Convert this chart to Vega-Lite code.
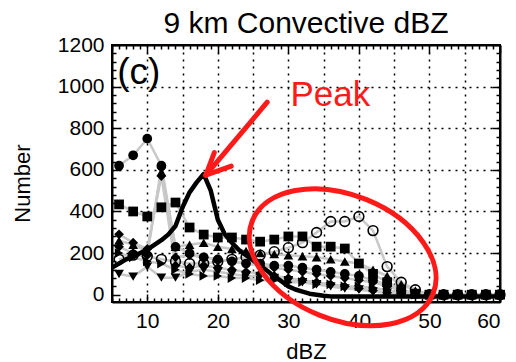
{
  "$schema": "https://vega.github.io/schema/vega-lite/v6.json",
  "autosize": {"type": "none"},
  "width": 388,
  "height": 257,
  "padding": {"left": 112, "top": 45, "right": 16, "bottom": 60},
  "background": "white",
  "config": {
    "font": "Liberation Sans",
    "view": {"stroke": "black", "strokeWidth": 2}
  },
  "title": {"text": "9 km Convective dBZ", "fontSize": 30, "fontWeight": "normal", "font": "Liberation Sans", "color": "black", "anchor": "middle", "offset": -5},
  "datasets": {
    "series": [
      {"s":"A","x":6,"y":620},{"s":"A","x":8,"y":670},{"s":"A","x":10,"y":750},{"s":"A","x":12,"y":620},{"s":"A","x":14,"y":230},{"s":"A","x":16,"y":200},{"s":"A","x":18,"y":180},{"s":"A","x":20,"y":170},{"s":"A","x":22,"y":160},{"s":"A","x":24,"y":150},{"s":"A","x":26,"y":150},{"s":"A","x":28,"y":140},{"s":"A","x":30,"y":140},{"s":"A","x":32,"y":130},{"s":"A","x":34,"y":120},{"s":"A","x":36,"y":110},{"s":"A","x":38,"y":100},{"s":"A","x":40,"y":90},{"s":"A","x":42,"y":70},{"s":"A","x":44,"y":50},{"s":"A","x":46,"y":20},{"s":"A","x":48,"y":5},{"s":"A","x":50,"y":0},{"s":"A","x":52,"y":0},{"s":"A","x":54,"y":0},{"s":"A","x":56,"y":0},{"s":"A","x":58,"y":0},{"s":"A","x":60,"y":0},
      {"s":"B","x":6,"y":434},{"s":"B","x":8,"y":400},{"s":"B","x":10,"y":376},{"s":"B","x":12,"y":420},{"s":"B","x":14,"y":443},{"s":"B","x":16,"y":323},{"s":"B","x":18,"y":289},{"s":"B","x":20,"y":275},{"s":"B","x":22,"y":275},{"s":"B","x":24,"y":265},{"s":"B","x":26,"y":255},{"s":"B","x":28,"y":265},{"s":"B","x":30,"y":280},{"s":"B","x":32,"y":280},{"s":"B","x":34,"y":231},{"s":"B","x":36,"y":231},{"s":"B","x":38,"y":222},{"s":"B","x":40,"y":150},{"s":"B","x":42,"y":100},{"s":"B","x":44,"y":60},{"s":"B","x":46,"y":25},{"s":"B","x":48,"y":5},{"s":"B","x":50,"y":0},{"s":"B","x":52,"y":0},{"s":"B","x":54,"y":0},{"s":"B","x":56,"y":0},{"s":"B","x":58,"y":0},{"s":"B","x":60,"y":0},
      {"s":"C","x":6,"y":170},{"s":"C","x":8,"y":190},{"s":"C","x":10,"y":185},{"s":"C","x":12,"y":170},{"s":"C","x":14,"y":160},{"s":"C","x":16,"y":150},{"s":"C","x":18,"y":150},{"s":"C","x":20,"y":160},{"s":"C","x":22,"y":170},{"s":"C","x":24,"y":180},{"s":"C","x":26,"y":190},{"s":"C","x":28,"y":207},{"s":"C","x":30,"y":226},{"s":"C","x":32,"y":250},{"s":"C","x":34,"y":299},{"s":"C","x":36,"y":352},{"s":"C","x":38,"y":352},{"s":"C","x":40,"y":376},{"s":"C","x":42,"y":308},{"s":"C","x":44,"y":135},{"s":"C","x":46,"y":60},{"s":"C","x":48,"y":24},{"s":"C","x":50,"y":0},{"s":"C","x":52,"y":0},{"s":"C","x":54,"y":0},{"s":"C","x":56,"y":0},{"s":"C","x":58,"y":0},{"s":"C","x":60,"y":0},
      {"s":"D","x":6,"y":230},{"s":"D","x":8,"y":200},{"s":"D","x":10,"y":190},{"s":"D","x":12,"y":610},{"s":"D","x":14,"y":180},{"s":"D","x":16,"y":190},{"s":"D","x":18,"y":180},{"s":"D","x":20,"y":170},{"s":"D","x":22,"y":160},{"s":"D","x":24,"y":150},{"s":"D","x":26,"y":140},{"s":"D","x":28,"y":130},{"s":"D","x":30,"y":120},{"s":"D","x":32,"y":110},{"s":"D","x":34,"y":100},{"s":"D","x":36,"y":90},{"s":"D","x":38,"y":80},{"s":"D","x":40,"y":70},{"s":"D","x":42,"y":60},{"s":"D","x":44,"y":40},{"s":"D","x":46,"y":20},{"s":"D","x":48,"y":5},{"s":"D","x":50,"y":0},{"s":"D","x":52,"y":0},{"s":"D","x":54,"y":0},{"s":"D","x":56,"y":0},{"s":"D","x":58,"y":0},{"s":"D","x":60,"y":0},
      {"s":"E","x":6,"y":100},{"s":"E","x":8,"y":87},{"s":"E","x":10,"y":135},{"s":"E","x":12,"y":82},{"s":"E","x":14,"y":82},{"s":"E","x":16,"y":110},{"s":"E","x":18,"y":120},{"s":"E","x":20,"y":110},{"s":"E","x":22,"y":100},{"s":"E","x":24,"y":90},{"s":"E","x":26,"y":90},{"s":"E","x":28,"y":80},{"s":"E","x":30,"y":70},{"s":"E","x":32,"y":60},{"s":"E","x":34,"y":50},{"s":"E","x":36,"y":40},{"s":"E","x":38,"y":30},{"s":"E","x":40,"y":25},{"s":"E","x":42,"y":15},{"s":"E","x":44,"y":10},{"s":"E","x":46,"y":0},{"s":"E","x":48,"y":0},{"s":"E","x":50,"y":0},{"s":"E","x":52,"y":0},{"s":"E","x":54,"y":0},{"s":"E","x":56,"y":0},{"s":"E","x":58,"y":0},{"s":"E","x":60,"y":0},
      {"s":"F","x":6,"y":260},{"s":"F","x":8,"y":240},{"s":"F","x":10,"y":210},{"s":"F","x":12,"y":590},{"s":"F","x":14,"y":230},{"s":"F","x":16,"y":240},{"s":"F","x":18,"y":250},{"s":"F","x":20,"y":230},{"s":"F","x":22,"y":220},{"s":"F","x":24,"y":210},{"s":"F","x":26,"y":200},{"s":"F","x":28,"y":195},{"s":"F","x":30,"y":190},{"s":"F","x":32,"y":185},{"s":"F","x":34,"y":180},{"s":"F","x":36,"y":170},{"s":"F","x":38,"y":160},{"s":"F","x":40,"y":150},{"s":"F","x":42,"y":120},{"s":"F","x":44,"y":90},{"s":"F","x":46,"y":50},{"s":"F","x":48,"y":20},{"s":"F","x":50,"y":0},{"s":"F","x":52,"y":0},{"s":"F","x":54,"y":0},{"s":"F","x":56,"y":0},{"s":"F","x":58,"y":0},{"s":"F","x":60,"y":0},
      {"s":"G","x":6,"y":290},{"s":"G","x":8,"y":250},{"s":"G","x":10,"y":220},{"s":"G","x":12,"y":570},{"s":"G","x":14,"y":140},{"s":"G","x":16,"y":130},{"s":"G","x":18,"y":140},{"s":"G","x":20,"y":130},{"s":"G","x":22,"y":120},{"s":"G","x":24,"y":110},{"s":"G","x":26,"y":100},{"s":"G","x":28,"y":90},{"s":"G","x":30,"y":80},{"s":"G","x":32,"y":70},{"s":"G","x":34,"y":60},{"s":"G","x":36,"y":50},{"s":"G","x":38,"y":40},{"s":"G","x":40,"y":30},{"s":"G","x":42,"y":20},{"s":"G","x":44,"y":10},{"s":"G","x":46,"y":5},{"s":"G","x":48,"y":0},{"s":"G","x":50,"y":0},{"s":"G","x":52,"y":0},{"s":"G","x":54,"y":0},{"s":"G","x":56,"y":0},{"s":"G","x":58,"y":0},{"s":"G","x":60,"y":0},
      {"s":"H","x":6,"y":200},{"s":"H","x":8,"y":180},{"s":"H","x":10,"y":160},{"s":"H","x":12,"y":150},{"s":"H","x":14,"y":120},{"s":"H","x":16,"y":100},{"s":"H","x":18,"y":90},{"s":"H","x":20,"y":90},{"s":"H","x":22,"y":80},{"s":"H","x":24,"y":80},{"s":"H","x":26,"y":70},{"s":"H","x":28,"y":70},{"s":"H","x":30,"y":60},{"s":"H","x":32,"y":60},{"s":"H","x":34,"y":50},{"s":"H","x":36,"y":50},{"s":"H","x":38,"y":40},{"s":"H","x":40,"y":40},{"s":"H","x":42,"y":34},{"s":"H","x":44,"y":20},{"s":"H","x":46,"y":10},{"s":"H","x":48,"y":0},{"s":"H","x":50,"y":0},{"s":"H","x":52,"y":0},{"s":"H","x":54,"y":0},{"s":"H","x":56,"y":0},{"s":"H","x":58,"y":0},{"s":"H","x":60,"y":0}
    ],
    "thick": [
      {"x":5,"y":130},{"x":6,"y":150},{"x":7,"y":170},{"x":8,"y":183},{"x":9,"y":200},{"x":10,"y":217},{"x":11,"y":240},{"x":12,"y":262},{"x":13,"y":290},{"x":14,"y":330},{"x":15,"y":420},{"x":16,"y":492},{"x":17,"y":540},{"x":18,"y":580},{"x":19,"y":500},{"x":20,"y":360},{"x":21,"y":290},{"x":22,"y":250},{"x":23,"y":215},{"x":24,"y":190},{"x":25,"y":165},{"x":26,"y":140},{"x":27,"y":115},{"x":28,"y":88},{"x":29,"y":65},{"x":30,"y":40},{"x":31,"y":25},{"x":32,"y":15},{"x":33,"y":5},{"x":34,"y":0},{"x":35,"y":-5},{"x":36,"y":-8},{"x":38,"y":-8},{"x":40,"y":-8},{"x":42,"y":-8},{"x":44,"y":-8},{"x":46,"y":-8},{"x":48,"y":-8},{"x":50,"y":-8},{"x":52,"y":-8},{"x":54,"y":-8},{"x":56,"y":-8},{"x":58,"y":-8},{"x":60,"y":-8}
    ],
    "arrow": [
      {"seg":"shaft","o":1,"x":27.0,"y":925},{"seg":"shaft","o":2,"x":18.3,"y":575},
      {"seg":"barb1","o":1,"x":21.9,"y":618},{"seg":"barb1","o":2,"x":18.3,"y":575},
      {"seg":"barb2","o":1,"x":19.5,"y":683},{"seg":"barb2","o":2,"x":18.3,"y":575}
    ],
    "ellipse": [{"x":37.7,"y":180}],
    "notes": [
      {"label":"(c)","x":5.75,"y":1012,"kind":"panel"},
      {"label":"Peak","x":30.3,"y":907,"kind":"peak"}
    ]
  },
  "resolve": {"axis": {"x": "independent", "y": "independent"}},
  "layer": [
    {
      "data": {"name": "series"},
      "mark": {"type": "line", "color": "#c8c8c8", "strokeWidth": 2.5},
      "encoding": {
        "x": {"field": "x", "type": "quantitative", "scale": {"domain": [5, 60], "nice": false, "zero": false},
          "axis": {
            "orient": "bottom",
            "values": [5,6,7,8,9,10,11,12,13,14,15,16,17,18,19,20,21,22,23,24,25,26,27,28,29,30,31,32,33,34,35,36,37,38,39,40,41,42,43,44,45,46,47,48,49,50,51,52,53,54,55,56,57,58,59,60],
            "labelExpr": "datum.value % 10 === 0 ? datum.label : ''",
            "format": "d",
            "labelFontSize": 21, "labelColor": "black", "labelPadding": 16, "labelFont": "Liberation Sans",
            "tickSize": {"condition": {"test": "datum.value % 10 === 0", "value": -8}, "value": -4},
            "tickColor": "black", "tickWidth": 1.5,
            "grid": true,
            "gridOpacity": {"condition": {"test": "datum.value % 5 === 0 && datum.value > 5 && datum.value < 60", "value": 1}, "value": 0},
            "gridColor": "black", "gridDash": [2, 5], "gridWidth": 1.5,
            "domainColor": "black", "domainWidth": 2,
            "title": "dBZ", "titleFontSize": 22, "titleFontWeight": "normal", "titleColor": "black", "titleFont": "Liberation Sans",
            "titleY": 49, "titleBaseline": "middle"
          }},
        "y": {"field": "y", "type": "quantitative", "scale": {"domain": [-35, 1200], "nice": false, "zero": false},
          "axis": {
            "orient": "left",
            "values": [0,40,80,120,160,200,240,280,320,360,400,440,480,520,560,600,640,680,720,760,800,840,880,920,960,1000,1040,1080,1120,1160,1200],
            "labelExpr": "datum.value % 200 === 0 ? datum.label : ''",
            "format": "d",
            "labelFontSize": 21, "labelColor": "black", "labelPadding": 16, "labelFont": "Liberation Sans",
            "tickSize": {"condition": {"test": "datum.value % 200 === 0", "value": -8}, "value": -4},
            "tickColor": "black", "tickWidth": 1.5,
            "grid": true,
            "gridOpacity": {"condition": {"test": "datum.value % 200 === 0 && datum.value > 0 && datum.value < 1200", "value": 1}, "value": 0},
            "gridColor": "black", "gridDash": [2, 5], "gridWidth": 1.5,
            "domainColor": "black", "domainWidth": 2,
            "title": "Number", "titleFontSize": 22, "titleFontWeight": "normal", "titleColor": "black", "titleFont": "Liberation Sans",
            "titleX": -90, "titleY": 138, "titleAngle": -90, "titleAlign": "center", "titleBaseline": "middle"
          }},
        "detail": {"field": "s"}
      }
    },
    {
      "data": {"name": "series"},
      "transform": [{"filter": "datum.s !== 'C'"}],
      "mark": {"type": "point", "filled": true, "color": "black", "size": 95, "opacity": 1},
      "encoding": {
        "x": {"field": "x", "type": "quantitative", "axis": null},
        "y": {"field": "y", "type": "quantitative", "axis": null},
        "shape": {"field": "s", "type": "nominal", "legend": null,
          "scale": {"domain": ["A","B","D","E","F","G","H"], "range": ["circle","square","diamond","triangle-down","triangle-up","diamond","triangle-right"]}}
      }
    },
    {
      "data": {"name": "series"},
      "transform": [{"filter": "datum.s === 'C'"}],
      "mark": {"type": "point", "filled": false, "shape": "circle", "color": "black", "fill": "white", "fillOpacity": 0, "strokeWidth": 1.6, "size": 95, "opacity": 1},
      "encoding": {
        "x": {"field": "x", "type": "quantitative", "axis": null},
        "y": {"field": "y", "type": "quantitative", "axis": null}
      }
    },
    {
      "data": {"name": "thick"},
      "mark": {"type": "line", "color": "black", "strokeWidth": 4.5, "strokeJoin": "round"},
      "encoding": {
        "x": {"field": "x", "type": "quantitative", "axis": null},
        "y": {"field": "y", "type": "quantitative", "axis": null}
      }
    },
    {
      "data": {"name": "arrow"},
      "mark": {"type": "line", "color": "#ff1a1a", "strokeWidth": 5, "strokeCap": "round"},
      "encoding": {
        "x": {"field": "x", "type": "quantitative", "axis": null},
        "y": {"field": "y", "type": "quantitative", "axis": null},
        "detail": {"field": "seg"},
        "order": {"field": "o"}
      }
    },
    {
      "data": {"name": "ellipse"},
      "mark": {"type": "point", "shape": "M-1,0A1,0.64,0,1,1,1,0A1,0.64,0,1,1,-1,0Z", "size": 38000, "angle": 22, "filled": false, "stroke": "#ff1a1a", "strokeWidth": 5, "opacity": 1},
      "encoding": {
        "x": {"field": "x", "type": "quantitative",
          "axis": {"orient": "top", "labels": false, "title": null, "grid": false,
            "values": [5,6,7,8,9,10,11,12,13,14,15,16,17,18,19,20,21,22,23,24,25,26,27,28,29,30,31,32,33,34,35,36,37,38,39,40,41,42,43,44,45,46,47,48,49,50,51,52,53,54,55,56,57,58,59,60],
            "tickSize": {"condition": {"test": "datum.value % 10 === 0", "value": -8}, "value": -4},
            "tickColor": "black", "tickWidth": 1.5, "domainColor": "black", "domainWidth": 2}},
        "y": {"field": "y", "type": "quantitative",
          "axis": {"orient": "right", "labels": false, "title": null, "grid": false,
            "values": [0,40,80,120,160,200,240,280,320,360,400,440,480,520,560,600,640,680,720,760,800,840,880,920,960,1000,1040,1080,1120,1160,1200],
            "tickSize": {"condition": {"test": "datum.value % 200 === 0", "value": -8}, "value": -4},
            "tickColor": "black", "tickWidth": 1.5, "domainColor": "black", "domainWidth": 2}}
      }
    },
    {
      "data": {"name": "notes"},
      "mark": {"type": "text", "align": "left", "baseline": "alphabetic", "font": "Liberation Sans"},
      "encoding": {
        "x": {"field": "x", "type": "quantitative", "axis": null},
        "y": {"field": "y", "type": "quantitative", "axis": null},
        "text": {"field": "label"},
        "size": {"field": "kind", "type": "nominal", "legend": null, "scale": {"domain": ["panel", "peak"], "range": [37, 35]}},
        "color": {"field": "kind", "type": "nominal", "legend": null, "scale": {"domain": ["panel", "peak"], "range": ["black", "#ff1a1a"]}}
      }
    }
  ]
}
